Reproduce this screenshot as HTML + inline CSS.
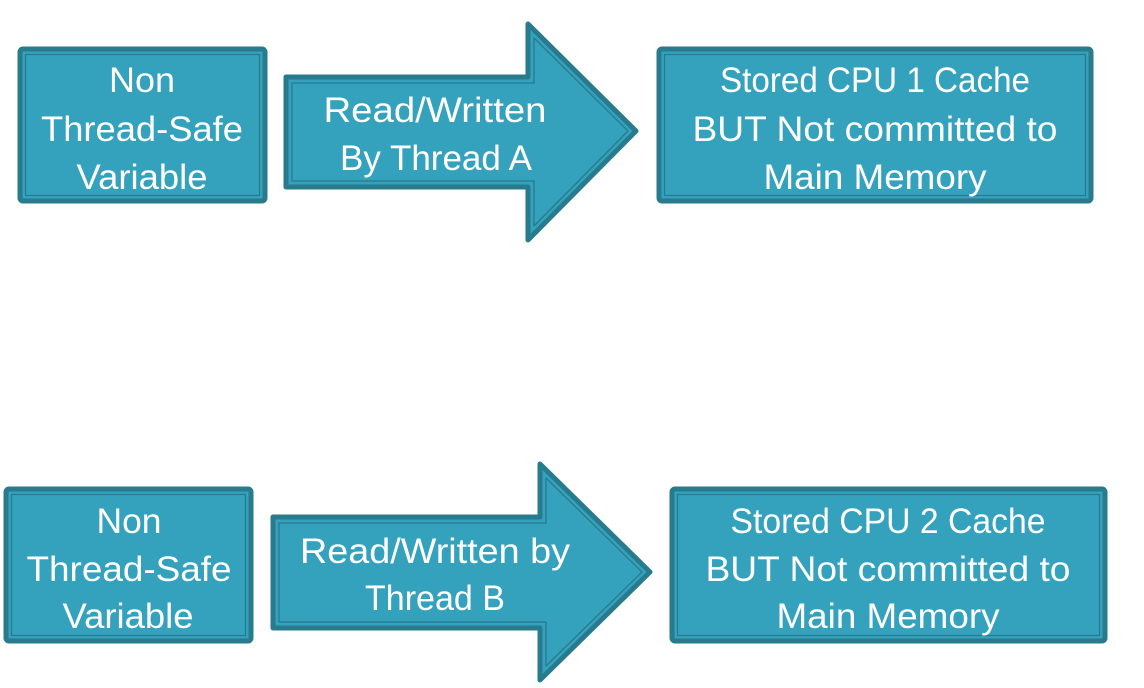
<!DOCTYPE html>
<html><head><meta charset="utf-8"><style>
html,body{margin:0;padding:0;background:#fff;width:1144px;height:688px;overflow:hidden}
text{font-family:"Liberation Sans",sans-serif;font-size:35px;fill:#fff;text-anchor:middle}
</style></head><body>
<svg width="1144" height="688" viewBox="0 0 1144 688" xmlns="http://www.w3.org/2000/svg">
<g stroke="#287a8d" stroke-linejoin="round">
<rect x="20" y="49" width="245" height="152" rx="3" fill="#35a2bd" stroke-width="5"/>
<rect x="25.5" y="54.5" width="234" height="141" fill="none" stroke-width="1.3"/>
<path d="M286,77 L528,77 L528,24 L636,131 L528,240 L528,187 L286,187 Z" fill="#35a2bd" stroke-width="5"/>
<path d="M292,83 L534,83 L534,38 L628,131 L534,226 L534,181 L292,181 Z" fill="none" stroke-width="1.3"/>
<rect x="659" y="49" width="432" height="152" rx="3" fill="#35a2bd" stroke-width="5"/>
<rect x="664.5" y="54.5" width="421" height="141" fill="none" stroke-width="1.3"/>
<rect x="6" y="489" width="245" height="152" rx="3" fill="#35a2bd" stroke-width="5"/>
<rect x="11.5" y="494.5" width="234" height="141" fill="none" stroke-width="1.3"/>
<path d="M273,517 L540,517 L540,464 L650,572 L540,680 L540,628 L273,628 Z" fill="#35a2bd" stroke-width="5"/>
<path d="M279,523 L546,523 L546,478 L642,572 L546,666 L546,622 L279,622 Z" fill="none" stroke-width="1.3"/>
<rect x="672" y="489" width="433" height="152" rx="3" fill="#35a2bd" stroke-width="5"/>
<rect x="677.5" y="494.5" width="422" height="141" fill="none" stroke-width="1.3"/>
</g>
<g>
<text x="142" y="92" textLength="66" lengthAdjust="spacingAndGlyphs">Non</text>
<text x="142" y="141" textLength="202" lengthAdjust="spacingAndGlyphs">Thread-Safe</text>
<text x="142" y="189" textLength="131" lengthAdjust="spacingAndGlyphs">Variable</text>
<text x="435" y="122" textLength="223" lengthAdjust="spacingAndGlyphs">Read/Written</text>
<text x="436" y="170" textLength="192" lengthAdjust="spacingAndGlyphs">By Thread A</text>
<text x="875" y="92" textLength="310" lengthAdjust="spacingAndGlyphs">Stored CPU 1 Cache</text>
<text x="875" y="141" textLength="365" lengthAdjust="spacingAndGlyphs">BUT Not committed to</text>
<text x="875" y="189" textLength="223" lengthAdjust="spacingAndGlyphs">Main Memory</text>
<text x="129" y="533" textLength="65" lengthAdjust="spacingAndGlyphs">Non</text>
<text x="129" y="581" textLength="205" lengthAdjust="spacingAndGlyphs">Thread-Safe</text>
<text x="128" y="628" textLength="131" lengthAdjust="spacingAndGlyphs">Variable</text>
<text x="435" y="563" textLength="270" lengthAdjust="spacingAndGlyphs">Read/Written by</text>
<text x="435" y="610" textLength="140" lengthAdjust="spacingAndGlyphs">Thread B</text>
<text x="888" y="533" textLength="315" lengthAdjust="spacingAndGlyphs">Stored CPU 2 Cache</text>
<text x="888" y="581" textLength="365" lengthAdjust="spacingAndGlyphs">BUT Not committed to</text>
<text x="888" y="628" textLength="223" lengthAdjust="spacingAndGlyphs">Main Memory</text>
</g>
</svg>
</body></html>
